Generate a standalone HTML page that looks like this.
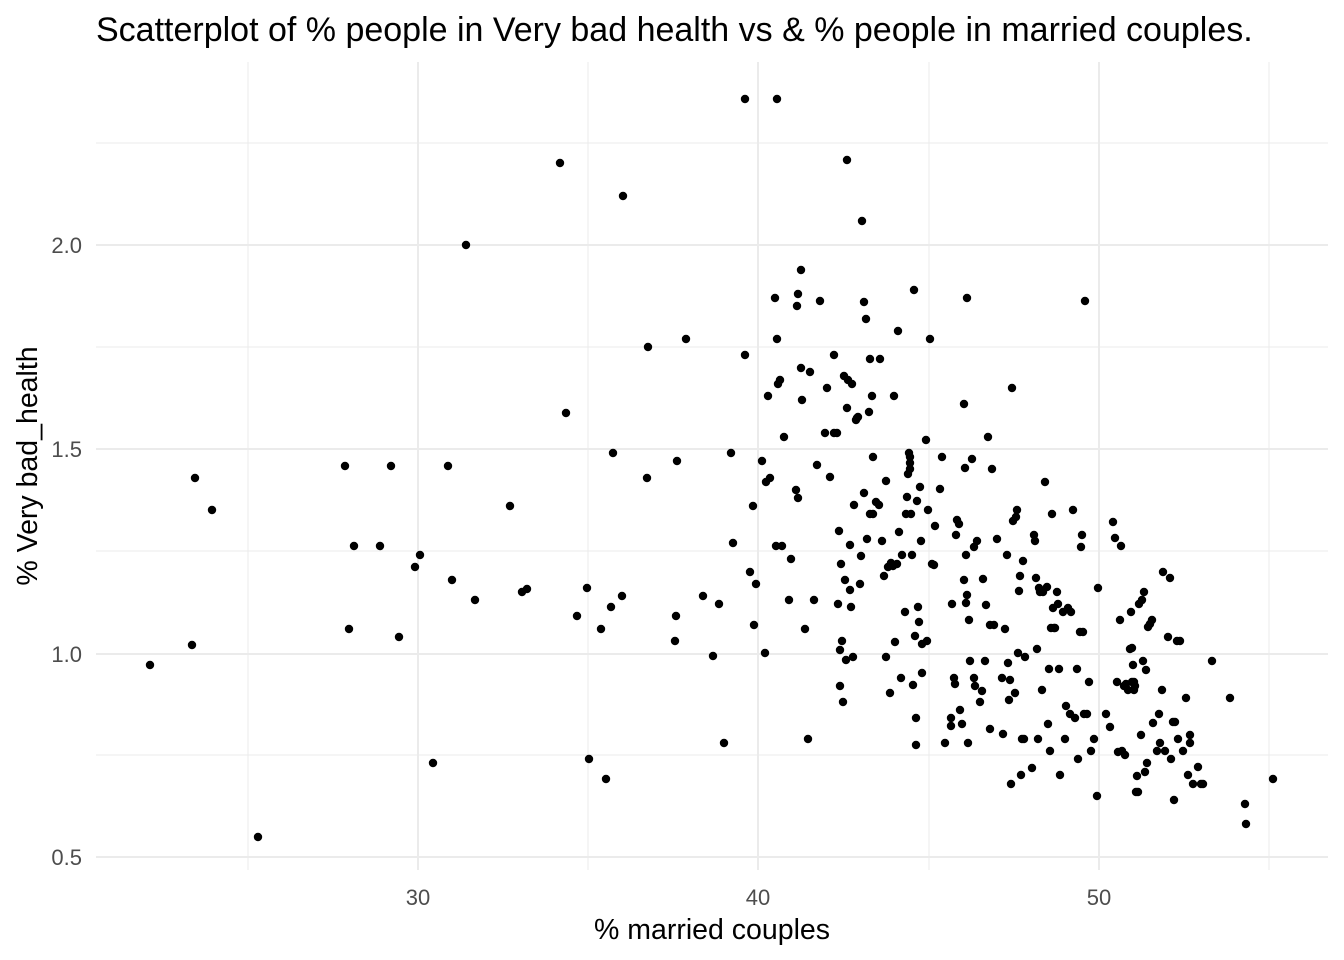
<!DOCTYPE html>
<html><head><meta charset="utf-8"><style>
html,body{margin:0;padding:0;background:#fff;}
svg{display:block;font-family:"Liberation Sans",sans-serif;}
</style></head><body>
<svg width="1344" height="960" viewBox="0 0 1344 960" xmlns="http://www.w3.org/2000/svg">
<rect width="1344" height="960" fill="#fff"/>
<g stroke="#ebebeb" stroke-width="1">
<line x1="96" x2="1328" y1="143" y2="143"/><line x1="96" x2="1328" y1="347" y2="347"/>
<line x1="96" x2="1328" y1="551" y2="551"/><line x1="96" x2="1328" y1="755" y2="755"/>
<line y1="62" y2="870" x1="248" x2="248"/><line y1="62" y2="870" x1="588" x2="588"/>
<line y1="62" y2="870" x1="929" x2="929"/><line y1="62" y2="870" x1="1269" x2="1269"/>
</g>
<g stroke="#ebebeb" stroke-width="2">
<line x1="96" x2="1328" y1="245" y2="245"/><line x1="96" x2="1328" y1="449" y2="449"/>
<line x1="96" x2="1328" y1="654" y2="654"/><line x1="96" x2="1328" y1="857" y2="857"/>
<line y1="62" y2="870" x1="418" x2="418"/><line y1="62" y2="870" x1="758" x2="758"/>
<line y1="62" y2="870" x1="1099" x2="1099"/>
</g>
<g fill="#4d4d4d" font-size="22" text-anchor="end">
<text x="82" y="253">2.0</text><text x="82" y="457">1.5</text>
<text x="82" y="662">1.0</text><text x="82" y="865">0.5</text>
</g>
<g fill="#4d4d4d" font-size="22" text-anchor="middle">
<text x="418" y="905">30</text><text x="758" y="905">40</text><text x="1099" y="905">50</text>
</g>
<text x="712" y="939" font-size="28.5" text-anchor="middle" fill="#000">% married couples</text>
<text transform="translate(37,466) rotate(-90)" font-size="28.5" text-anchor="middle" fill="#000">% Very bad_health</text>
<text x="96" y="41" font-size="34" fill="#000">Scatterplot of % people in Very bad health vs &amp; % people in married couples.</text>
<g fill="#000" stroke="#000" stroke-width="1.2">
<circle cx="150" cy="665" r="3.6"/><circle cx="192" cy="645" r="3.6"/><circle cx="195" cy="478" r="3.6"/><circle cx="212" cy="510" r="3.6"/><circle cx="258" cy="837" r="3.6"/><circle cx="345" cy="466" r="3.6"/><circle cx="349" cy="629" r="3.6"/><circle cx="354" cy="546" r="3.6"/><circle cx="380" cy="546" r="3.6"/><circle cx="391" cy="466" r="3.6"/><circle cx="399" cy="637" r="3.6"/><circle cx="415" cy="567" r="3.6"/><circle cx="420" cy="555" r="3.6"/><circle cx="433" cy="763" r="3.6"/><circle cx="448" cy="466" r="3.6"/><circle cx="452" cy="580" r="3.6"/><circle cx="466" cy="245" r="3.6"/><circle cx="475" cy="600" r="3.6"/><circle cx="510" cy="506" r="3.6"/><circle cx="522" cy="592" r="3.6"/><circle cx="527" cy="589" r="3.6"/><circle cx="560" cy="163" r="3.6"/><circle cx="566" cy="413" r="3.6"/><circle cx="577" cy="616" r="3.6"/><circle cx="587" cy="588" r="3.6"/><circle cx="589" cy="759" r="3.6"/><circle cx="601" cy="629" r="3.6"/><circle cx="606" cy="779" r="3.6"/><circle cx="611" cy="607" r="3.6"/><circle cx="613" cy="453" r="3.6"/><circle cx="622" cy="596" r="3.6"/><circle cx="623" cy="196" r="3.6"/><circle cx="647" cy="478" r="3.6"/><circle cx="648" cy="347" r="3.6"/><circle cx="675" cy="641" r="3.6"/><circle cx="676" cy="616" r="3.6"/><circle cx="677" cy="461" r="3.6"/><circle cx="686" cy="339" r="3.6"/><circle cx="703" cy="596" r="3.6"/><circle cx="713" cy="656" r="3.6"/><circle cx="719" cy="604" r="3.6"/><circle cx="724" cy="743" r="3.6"/><circle cx="731" cy="453" r="3.6"/><circle cx="733" cy="543" r="3.6"/><circle cx="745" cy="99" r="3.6"/><circle cx="745" cy="355" r="3.6"/><circle cx="750" cy="572" r="3.6"/><circle cx="753" cy="506" r="3.6"/><circle cx="754" cy="625" r="3.6"/><circle cx="756" cy="584" r="3.6"/><circle cx="762" cy="461" r="3.6"/><circle cx="765" cy="653" r="3.6"/><circle cx="766" cy="482" r="3.6"/><circle cx="768" cy="396" r="3.6"/><circle cx="770" cy="478" r="3.6"/><circle cx="775" cy="298" r="3.6"/><circle cx="776" cy="546" r="3.6"/><circle cx="777" cy="99" r="3.6"/><circle cx="777" cy="339" r="3.6"/><circle cx="778" cy="384" r="3.6"/><circle cx="780" cy="380" r="3.6"/><circle cx="782" cy="546" r="3.6"/><circle cx="784" cy="437" r="3.6"/><circle cx="789" cy="600" r="3.6"/><circle cx="791" cy="559" r="3.6"/><circle cx="796" cy="490" r="3.6"/><circle cx="797" cy="306" r="3.6"/><circle cx="798" cy="294" r="3.6"/><circle cx="798" cy="498" r="3.6"/><circle cx="801" cy="368" r="3.6"/><circle cx="801" cy="270" r="3.6"/><circle cx="802" cy="400" r="3.6"/><circle cx="805" cy="629" r="3.6"/><circle cx="808" cy="739" r="3.6"/><circle cx="810" cy="372" r="3.6"/><circle cx="814" cy="600" r="3.6"/><circle cx="817" cy="465" r="3.6"/><circle cx="820" cy="301" r="3.6"/><circle cx="825" cy="433" r="3.6"/><circle cx="827" cy="388" r="3.6"/><circle cx="830" cy="477" r="3.6"/><circle cx="834" cy="433" r="3.6"/><circle cx="834" cy="355" r="3.6"/><circle cx="837" cy="433" r="3.6"/><circle cx="838" cy="604" r="3.6"/><circle cx="839" cy="531" r="3.6"/><circle cx="840" cy="686" r="3.6"/><circle cx="840" cy="650" r="3.6"/><circle cx="841" cy="564" r="3.6"/><circle cx="842" cy="641" r="3.6"/><circle cx="843" cy="702" r="3.6"/><circle cx="844" cy="376" r="3.6"/><circle cx="845" cy="580" r="3.6"/><circle cx="846" cy="660" r="3.6"/><circle cx="847" cy="160" r="3.6"/><circle cx="847" cy="408" r="3.6"/><circle cx="848" cy="380" r="3.6"/><circle cx="850" cy="545" r="3.6"/><circle cx="850" cy="590" r="3.6"/><circle cx="851" cy="607" r="3.6"/><circle cx="852" cy="384" r="3.6"/><circle cx="853" cy="657" r="3.6"/><circle cx="854" cy="505" r="3.6"/><circle cx="856" cy="420" r="3.6"/><circle cx="857" cy="418" r="3.6"/><circle cx="858" cy="417" r="3.6"/><circle cx="860" cy="584" r="3.6"/><circle cx="861" cy="556" r="3.6"/><circle cx="862" cy="221" r="3.6"/><circle cx="864" cy="302" r="3.6"/><circle cx="864" cy="493" r="3.6"/><circle cx="866" cy="319" r="3.6"/><circle cx="867" cy="539" r="3.6"/><circle cx="869" cy="412" r="3.6"/><circle cx="870" cy="514" r="3.6"/><circle cx="870" cy="359" r="3.6"/><circle cx="872" cy="396" r="3.6"/><circle cx="873" cy="457" r="3.6"/><circle cx="873" cy="514" r="3.6"/><circle cx="876" cy="502" r="3.6"/><circle cx="879" cy="505" r="3.6"/><circle cx="880" cy="359" r="3.6"/><circle cx="882" cy="541" r="3.6"/><circle cx="884" cy="576" r="3.6"/><circle cx="886" cy="657" r="3.6"/><circle cx="886" cy="481" r="3.6"/><circle cx="888" cy="567" r="3.6"/><circle cx="890" cy="693" r="3.6"/><circle cx="891" cy="563" r="3.6"/><circle cx="893" cy="566" r="3.6"/><circle cx="894" cy="396" r="3.6"/><circle cx="895" cy="642" r="3.6"/><circle cx="897" cy="564" r="3.6"/><circle cx="898" cy="331" r="3.6"/><circle cx="899" cy="532" r="3.6"/><circle cx="901" cy="678" r="3.6"/><circle cx="902" cy="555" r="3.6"/><circle cx="905" cy="612" r="3.6"/><circle cx="906" cy="514" r="3.6"/><circle cx="907" cy="497" r="3.6"/><circle cx="908" cy="474" r="3.6"/><circle cx="909" cy="453" r="3.6"/><circle cx="910" cy="457" r="3.6"/><circle cx="910" cy="463" r="3.6"/><circle cx="910" cy="469" r="3.6"/><circle cx="911" cy="514" r="3.6"/><circle cx="912" cy="555" r="3.6"/><circle cx="913" cy="685" r="3.6"/><circle cx="914" cy="290" r="3.6"/><circle cx="915" cy="636" r="3.6"/><circle cx="916" cy="718" r="3.6"/><circle cx="916" cy="745" r="3.6"/><circle cx="917" cy="501" r="3.6"/><circle cx="918" cy="607" r="3.6"/><circle cx="919" cy="622" r="3.6"/><circle cx="920" cy="487" r="3.6"/><circle cx="921" cy="541" r="3.6"/><circle cx="922" cy="673" r="3.6"/><circle cx="922" cy="644" r="3.6"/><circle cx="926" cy="440" r="3.6"/><circle cx="927" cy="641" r="3.6"/><circle cx="928" cy="510" r="3.6"/><circle cx="930" cy="339" r="3.6"/><circle cx="932" cy="564" r="3.6"/><circle cx="934" cy="565" r="3.6"/><circle cx="935" cy="526" r="3.6"/><circle cx="940" cy="489" r="3.6"/><circle cx="942" cy="457" r="3.6"/><circle cx="945" cy="743" r="3.6"/><circle cx="951" cy="726" r="3.6"/><circle cx="951" cy="718" r="3.6"/><circle cx="952" cy="604" r="3.6"/><circle cx="954" cy="678" r="3.6"/><circle cx="955" cy="684" r="3.6"/><circle cx="956" cy="535" r="3.6"/><circle cx="957" cy="520" r="3.6"/><circle cx="959" cy="524" r="3.6"/><circle cx="960" cy="710" r="3.6"/><circle cx="962" cy="724" r="3.6"/><circle cx="964" cy="404" r="3.6"/><circle cx="964" cy="580" r="3.6"/><circle cx="965" cy="468" r="3.6"/><circle cx="966" cy="603" r="3.6"/><circle cx="966" cy="555" r="3.6"/><circle cx="967" cy="298" r="3.6"/><circle cx="967" cy="595" r="3.6"/><circle cx="968" cy="743" r="3.6"/><circle cx="969" cy="620" r="3.6"/><circle cx="970" cy="661" r="3.6"/><circle cx="972" cy="459" r="3.6"/><circle cx="974" cy="547" r="3.6"/><circle cx="974" cy="678" r="3.6"/><circle cx="975" cy="686" r="3.6"/><circle cx="977" cy="541" r="3.6"/><circle cx="980" cy="702" r="3.6"/><circle cx="982" cy="691" r="3.6"/><circle cx="983" cy="579" r="3.6"/><circle cx="985" cy="661" r="3.6"/><circle cx="986" cy="605" r="3.6"/><circle cx="988" cy="437" r="3.6"/><circle cx="990" cy="625" r="3.6"/><circle cx="990" cy="729" r="3.6"/><circle cx="992" cy="469" r="3.6"/><circle cx="994" cy="625" r="3.6"/><circle cx="997" cy="539" r="3.6"/><circle cx="1002" cy="678" r="3.6"/><circle cx="1003" cy="734" r="3.6"/><circle cx="1005" cy="629" r="3.6"/><circle cx="1007" cy="555" r="3.6"/><circle cx="1008" cy="663" r="3.6"/><circle cx="1009" cy="700" r="3.6"/><circle cx="1010" cy="680" r="3.6"/><circle cx="1011" cy="784" r="3.6"/><circle cx="1012" cy="388" r="3.6"/><circle cx="1013" cy="521" r="3.6"/><circle cx="1015" cy="693" r="3.6"/><circle cx="1016" cy="517" r="3.6"/><circle cx="1017" cy="510" r="3.6"/><circle cx="1018" cy="653" r="3.6"/><circle cx="1019" cy="591" r="3.6"/><circle cx="1020" cy="576" r="3.6"/><circle cx="1021" cy="775" r="3.6"/><circle cx="1022" cy="739" r="3.6"/><circle cx="1023" cy="561" r="3.6"/><circle cx="1024" cy="739" r="3.6"/><circle cx="1025" cy="657" r="3.6"/><circle cx="1032" cy="768" r="3.6"/><circle cx="1034" cy="535" r="3.6"/><circle cx="1035" cy="541" r="3.6"/><circle cx="1036" cy="578" r="3.6"/><circle cx="1037" cy="649" r="3.6"/><circle cx="1038" cy="739" r="3.6"/><circle cx="1039" cy="588" r="3.6"/><circle cx="1040" cy="592" r="3.6"/><circle cx="1042" cy="690" r="3.6"/><circle cx="1043" cy="592" r="3.6"/><circle cx="1045" cy="482" r="3.6"/><circle cx="1047" cy="587" r="3.6"/><circle cx="1048" cy="724" r="3.6"/><circle cx="1049" cy="669" r="3.6"/><circle cx="1050" cy="751" r="3.6"/><circle cx="1051" cy="628" r="3.6"/><circle cx="1052" cy="514" r="3.6"/><circle cx="1053" cy="608" r="3.6"/><circle cx="1054" cy="628" r="3.6"/><circle cx="1055" cy="628" r="3.6"/><circle cx="1057" cy="592" r="3.6"/><circle cx="1058" cy="604" r="3.6"/><circle cx="1059" cy="669" r="3.6"/><circle cx="1060" cy="775" r="3.6"/><circle cx="1063" cy="612" r="3.6"/><circle cx="1065" cy="739" r="3.6"/><circle cx="1066" cy="706" r="3.6"/><circle cx="1068" cy="608" r="3.6"/><circle cx="1070" cy="714" r="3.6"/><circle cx="1071" cy="612" r="3.6"/><circle cx="1073" cy="510" r="3.6"/><circle cx="1075" cy="718" r="3.6"/><circle cx="1077" cy="669" r="3.6"/><circle cx="1078" cy="759" r="3.6"/><circle cx="1080" cy="632" r="3.6"/><circle cx="1081" cy="547" r="3.6"/><circle cx="1082" cy="535" r="3.6"/><circle cx="1083" cy="632" r="3.6"/><circle cx="1084" cy="714" r="3.6"/><circle cx="1085" cy="301" r="3.6"/><circle cx="1087" cy="714" r="3.6"/><circle cx="1089" cy="682" r="3.6"/><circle cx="1091" cy="751" r="3.6"/><circle cx="1094" cy="739" r="3.6"/><circle cx="1097" cy="796" r="3.6"/><circle cx="1098" cy="588" r="3.6"/><circle cx="1106" cy="714" r="3.6"/><circle cx="1110" cy="727" r="3.6"/><circle cx="1113" cy="522" r="3.6"/><circle cx="1115" cy="538" r="3.6"/><circle cx="1117" cy="682" r="3.6"/><circle cx="1118" cy="752" r="3.6"/><circle cx="1120" cy="620" r="3.6"/><circle cx="1121" cy="546" r="3.6"/><circle cx="1122" cy="751" r="3.6"/><circle cx="1124" cy="686" r="3.6"/><circle cx="1125" cy="755" r="3.6"/><circle cx="1126" cy="684" r="3.6"/><circle cx="1128" cy="690" r="3.6"/><circle cx="1130" cy="649" r="3.6"/><circle cx="1131" cy="612" r="3.6"/><circle cx="1132" cy="682" r="3.6"/><circle cx="1132" cy="648" r="3.6"/><circle cx="1133" cy="665" r="3.6"/><circle cx="1134" cy="690" r="3.6"/><circle cx="1134" cy="682" r="3.6"/><circle cx="1135" cy="686" r="3.6"/><circle cx="1136" cy="792" r="3.6"/><circle cx="1137" cy="776" r="3.6"/><circle cx="1138" cy="792" r="3.6"/><circle cx="1139" cy="604" r="3.6"/><circle cx="1141" cy="735" r="3.6"/><circle cx="1142" cy="600" r="3.6"/><circle cx="1143" cy="661" r="3.6"/><circle cx="1144" cy="592" r="3.6"/><circle cx="1145" cy="772" r="3.6"/><circle cx="1146" cy="670" r="3.6"/><circle cx="1147" cy="763" r="3.6"/><circle cx="1148" cy="627" r="3.6"/><circle cx="1150" cy="624" r="3.6"/><circle cx="1152" cy="620" r="3.6"/><circle cx="1153" cy="723" r="3.6"/><circle cx="1157" cy="751" r="3.6"/><circle cx="1159" cy="714" r="3.6"/><circle cx="1160" cy="743" r="3.6"/><circle cx="1162" cy="690" r="3.6"/><circle cx="1163" cy="572" r="3.6"/><circle cx="1165" cy="751" r="3.6"/><circle cx="1168" cy="637" r="3.6"/><circle cx="1170" cy="578" r="3.6"/><circle cx="1171" cy="759" r="3.6"/><circle cx="1173" cy="722" r="3.6"/><circle cx="1174" cy="800" r="3.6"/><circle cx="1175" cy="722" r="3.6"/><circle cx="1177" cy="641" r="3.6"/><circle cx="1178" cy="739" r="3.6"/><circle cx="1180" cy="641" r="3.6"/><circle cx="1183" cy="751" r="3.6"/><circle cx="1186" cy="698" r="3.6"/><circle cx="1188" cy="775" r="3.6"/><circle cx="1190" cy="743" r="3.6"/><circle cx="1190" cy="735" r="3.6"/><circle cx="1193" cy="784" r="3.6"/><circle cx="1198" cy="767" r="3.6"/><circle cx="1201" cy="784" r="3.6"/><circle cx="1203" cy="784" r="3.6"/><circle cx="1212" cy="661" r="3.6"/><circle cx="1230" cy="698" r="3.6"/><circle cx="1245" cy="804" r="3.6"/><circle cx="1246" cy="824" r="3.6"/><circle cx="1273" cy="779" r="3.6"/>
</g>
</svg>
</body></html>
